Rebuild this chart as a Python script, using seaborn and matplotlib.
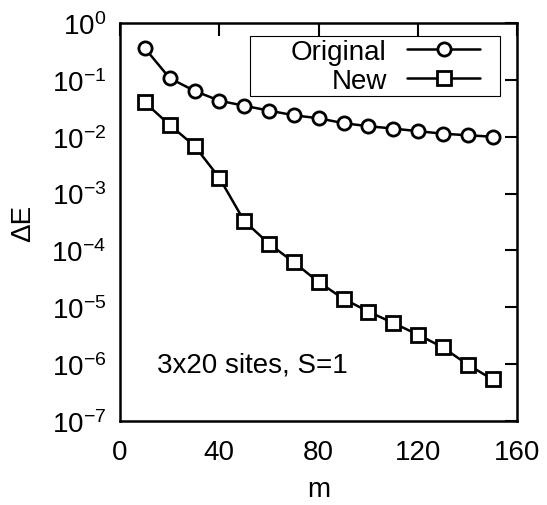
import matplotlib
matplotlib.use('Agg')
import matplotlib.pyplot as plt
from matplotlib.patches import Rectangle
import pandas as pd
import seaborn as sns

# values
m = [10, 20, 30, 40, 50, 60, 70, 80, 90, 100, 110, 120, 130, 140, 150]
original = [0.36, 0.107, 0.064, 0.043, 0.035, 0.0288, 0.0238, 0.0211,
            0.0173, 0.0153, 0.0139, 0.0125, 0.0113, 0.0106, 0.0100]
new = [0.040, 0.0161, 0.0069, 0.00189, 3.3e-4, 1.31e-4, 6.2e-5, 2.77e-5,
       1.41e-5, 8.4e-6, 5.3e-6, 3.3e-6, 1.97e-6, 9.8e-7, 5.4e-7]
ytick_vals = [1e-7, 1e-6, 1e-5, 1e-4, 1e-3, 1e-2, 1e-1, 1e0]
ytick_labels = ['$10^{-7}$', '$10^{-6}$', '$10^{-5}$', '$10^{-4}$',
                '$10^{-3}$', '$10^{-2}$', '$10^{-1}$', '$10^{0}$']
xtick_vals = [0, 40, 80, 120, 160]

FS = 20

sns.set_theme(style='white')
plt.rcParams['font.family'] = ['Liberation Sans', 'DejaVu Sans']
plt.rcParams['mathtext.fontset'] = 'custom'
plt.rcParams['mathtext.rm'] = 'Liberation Sans'
plt.rcParams['mathtext.it'] = 'Liberation Sans'
plt.rcParams['mathtext.default'] = 'regular'
plt.rcParams['text.color'] = 'black'
plt.rcParams['axes.labelcolor'] = 'black'

df = pd.DataFrame({'m': m, 'Original': original, 'New': new})

fig = plt.figure(figsize=(5.47, 5.06), dpi=100)
ax = fig.add_axes([0.2194, 0.166, 0.7264, 0.7866])

style = dict(color='black', linewidth=1.8, markersize=9.5,
             markerfacecolor='white', markeredgecolor='black',
             markeredgewidth=2.0)
sns.lineplot(data=df, x='m', y='Original', marker='o', label='Original',
             ax=ax, **style)
sns.lineplot(data=df, x='m', y='New', marker='s', label='New',
             ax=ax, **style)

ax.set_yscale('log')
ax.set_xlim(0, 160)
ax.set_ylim(1e-7, 1e0)
ax.set_xticks(xtick_vals)
ax.set_xticklabels([str(v) for v in xtick_vals])
ax.set_yticks(ytick_vals)
ax.set_yticklabels(ytick_labels)
ax.minorticks_off()
ax.tick_params(which='major', direction='in', length=9, width=1.5,
               top=True, right=True, labelsize=FS, colors='black')
ax.tick_params(axis='y', pad=10)
ax.tick_params(axis='x', pad=13)
for s in ax.spines.values():
    s.set_color('black')
    s.set_linewidth(1.8)

ax.set_xlabel('m', fontsize=FS, color='black', labelpad=8)
ax.set_ylabel('ΔE', fontsize=FS, color='black', labelpad=11)

ax.text(15, 1e-6, '3x20 sites, S=1', fontsize=FS, va='center', ha='left',
        color='black')

leg = ax.legend(loc='upper right', bbox_to_anchor=(0.914, 0.967),
                fontsize=FS, markerfirst=False, handlelength=2.65,
                frameon=False, borderpad=0.1, labelspacing=0.1,
                handletextpad=0.72, borderaxespad=0)
for t in leg.get_texts():
    t.set_ha('right')
    t.set_color('black')

# gnuplot style key box: wider than the entries need
fig.canvas.draw()
bb = leg.get_window_extent().transformed(fig.transFigure.inverted())
left_extra = 38 / 547
right_extra = 17 / 547
fig.add_artist(Rectangle((bb.x0 - left_extra, bb.y0),
                         bb.width + left_extra + right_extra, bb.height,
                         transform=fig.transFigure, fill=False,
                         edgecolor='black', linewidth=0.8))

fig.savefig('out.png', dpi=100)
